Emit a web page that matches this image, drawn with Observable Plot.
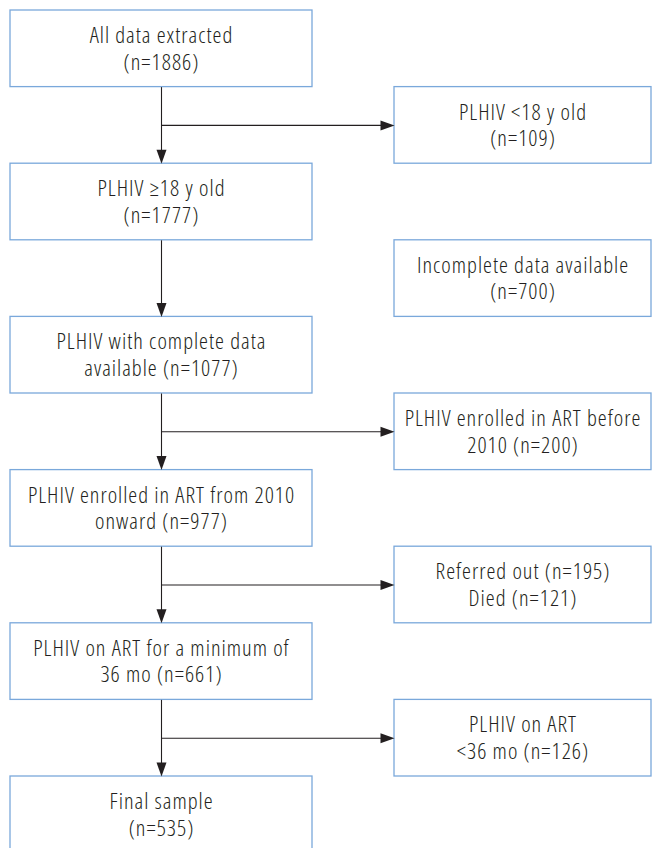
<!DOCTYPE html>
<html>
<head>
<meta charset="utf-8">
<script src="https://cdn.jsdelivr.net/npm/d3@7"></script>
<script src="https://cdn.jsdelivr.net/npm/@observablehq/plot@0.6"></script>
<style>
  html, body { margin: 0; padding: 0; background: #fff; }
  #chart svg { display: block; }
</style>
</head>
<body>
<div id="chart"></div>
<script>
// ---- Data (flow-diagram content) ----
const mainSteps = [
  "All data extracted\n(n=1886)",
  "PLHIV \u226518 y old\n(n=1777)",
  "PLHIV with complete data\navailable (n=1077)",
  "PLHIV enrolled in ART from 2010\nonward (n=977)",
  "PLHIV on ART for a minimum of\n36 mo (n=661)",
  "Final sample\n(n=535)"
];
const excludedSteps = [
  "PLHIV <18 y old\n(n=109)",
  "Incomplete data available\n(n=700)",
  "PLHIV enrolled in ART before\n2010 (n=200)",
  "Referred out (n=195)\nDied (n=121)",
  "PLHIV on ART\n<36 mo (n=126)"
];
const excludedLinked = [true, false, true, true, true];

// ---- Layout (in pixel units of the diagram) ----
const W = 654, H = 848;
const top0 = 10, pitch = 76.6;
const mainX1 = 10, mainX2 = 312;
const exclX1 = 394, exclX2 = 651;
const trunkX = (mainX1 + mainX2) / 2;
const headL = 14, headW = 10;
const fontSize = 22.5;

const rowTop = r => top0 + r * pitch;

const boxes = [
  ...mainSteps.map((label, i) => ({label, x1: mainX1, x2: mainX2, y1: rowTop(2 * i), y2: rowTop(2 * i) + pitch})),
  ...excludedSteps.map((label, j) => ({label, x1: exclX1, x2: exclX2, y1: rowTop(2 * j + 1), y2: rowTop(2 * j + 1) + pitch}))
];

const segments = [];
const heads = [];
for (let i = 0; i < mainSteps.length - 1; i++) {
  const yStart = rowTop(2 * i) + pitch;
  const yTip = rowTop(2 * i + 2);
  segments.push({x1: trunkX, y1: yStart, x2: trunkX, y2: yTip - headL / 2});
  heads.push({x: trunkX, y: yTip, rotate: 90});
}
excludedSteps.forEach((_, j) => {
  if (!excludedLinked[j]) return;
  const y = rowTop(2 * j + 1) + pitch / 2;
  segments.push({x1: trunkX, y1: y, x2: exclX1 - headL / 2, y2: y});
  heads.push({x: exclX1, y, rotate: 0});
});

// filled arrowhead whose tip sits at the anchor point, pointing right
const arrowHead = {
  draw(context) {
    context.moveTo(0, 0);
    context.lineTo(-headL, -headW / 2);
    context.lineTo(-headL, headW / 2);
    context.closePath();
  }
};

const ink = "#231f20";
const boxStroke = "#7aa8db";

const chart = Plot.plot({
  width: W,
  height: H,
  margin: 0,
  x: {type: "linear", domain: [0, W], range: [0, W], axis: null},
  y: {type: "linear", domain: [0, H], range: [0, H], axis: null},
  style: {
    fontFamily: "'Open Sans', sans-serif",
    fontStretch: "condensed",
    fontWeight: 300,
    letterSpacing: "1px",
    background: "#fff",
    overflow: "hidden"
  },
  marks: [
    Plot.rect(boxes, {x1: "x1", x2: "x2", y1: "y1", y2: "y2", fill: "#fff", stroke: boxStroke, strokeWidth: 1.3}),
    Plot.link(segments, {x1: "x1", y1: "y1", x2: "x2", y2: "y2", stroke: ink, strokeWidth: 1.1}),
    Plot.dot(heads, {x: "x", y: "y", rotate: "rotate", symbol: arrowHead, fill: ink, stroke: null, r: 5}),
    Plot.text(boxes, {
      x: d => (d.x1 + d.x2) / 2,
      y: d => (d.y1 + d.y2) / 2 - 1,
      text: "label",
      fontSize,
      lineHeight: 26.5 / fontSize,
      fill: ink,
      textAnchor: "middle",
      lineAnchor: "middle"
    })
  ]
});
document.getElementById("chart").appendChild(chart);
</script>
</body>
</html>
